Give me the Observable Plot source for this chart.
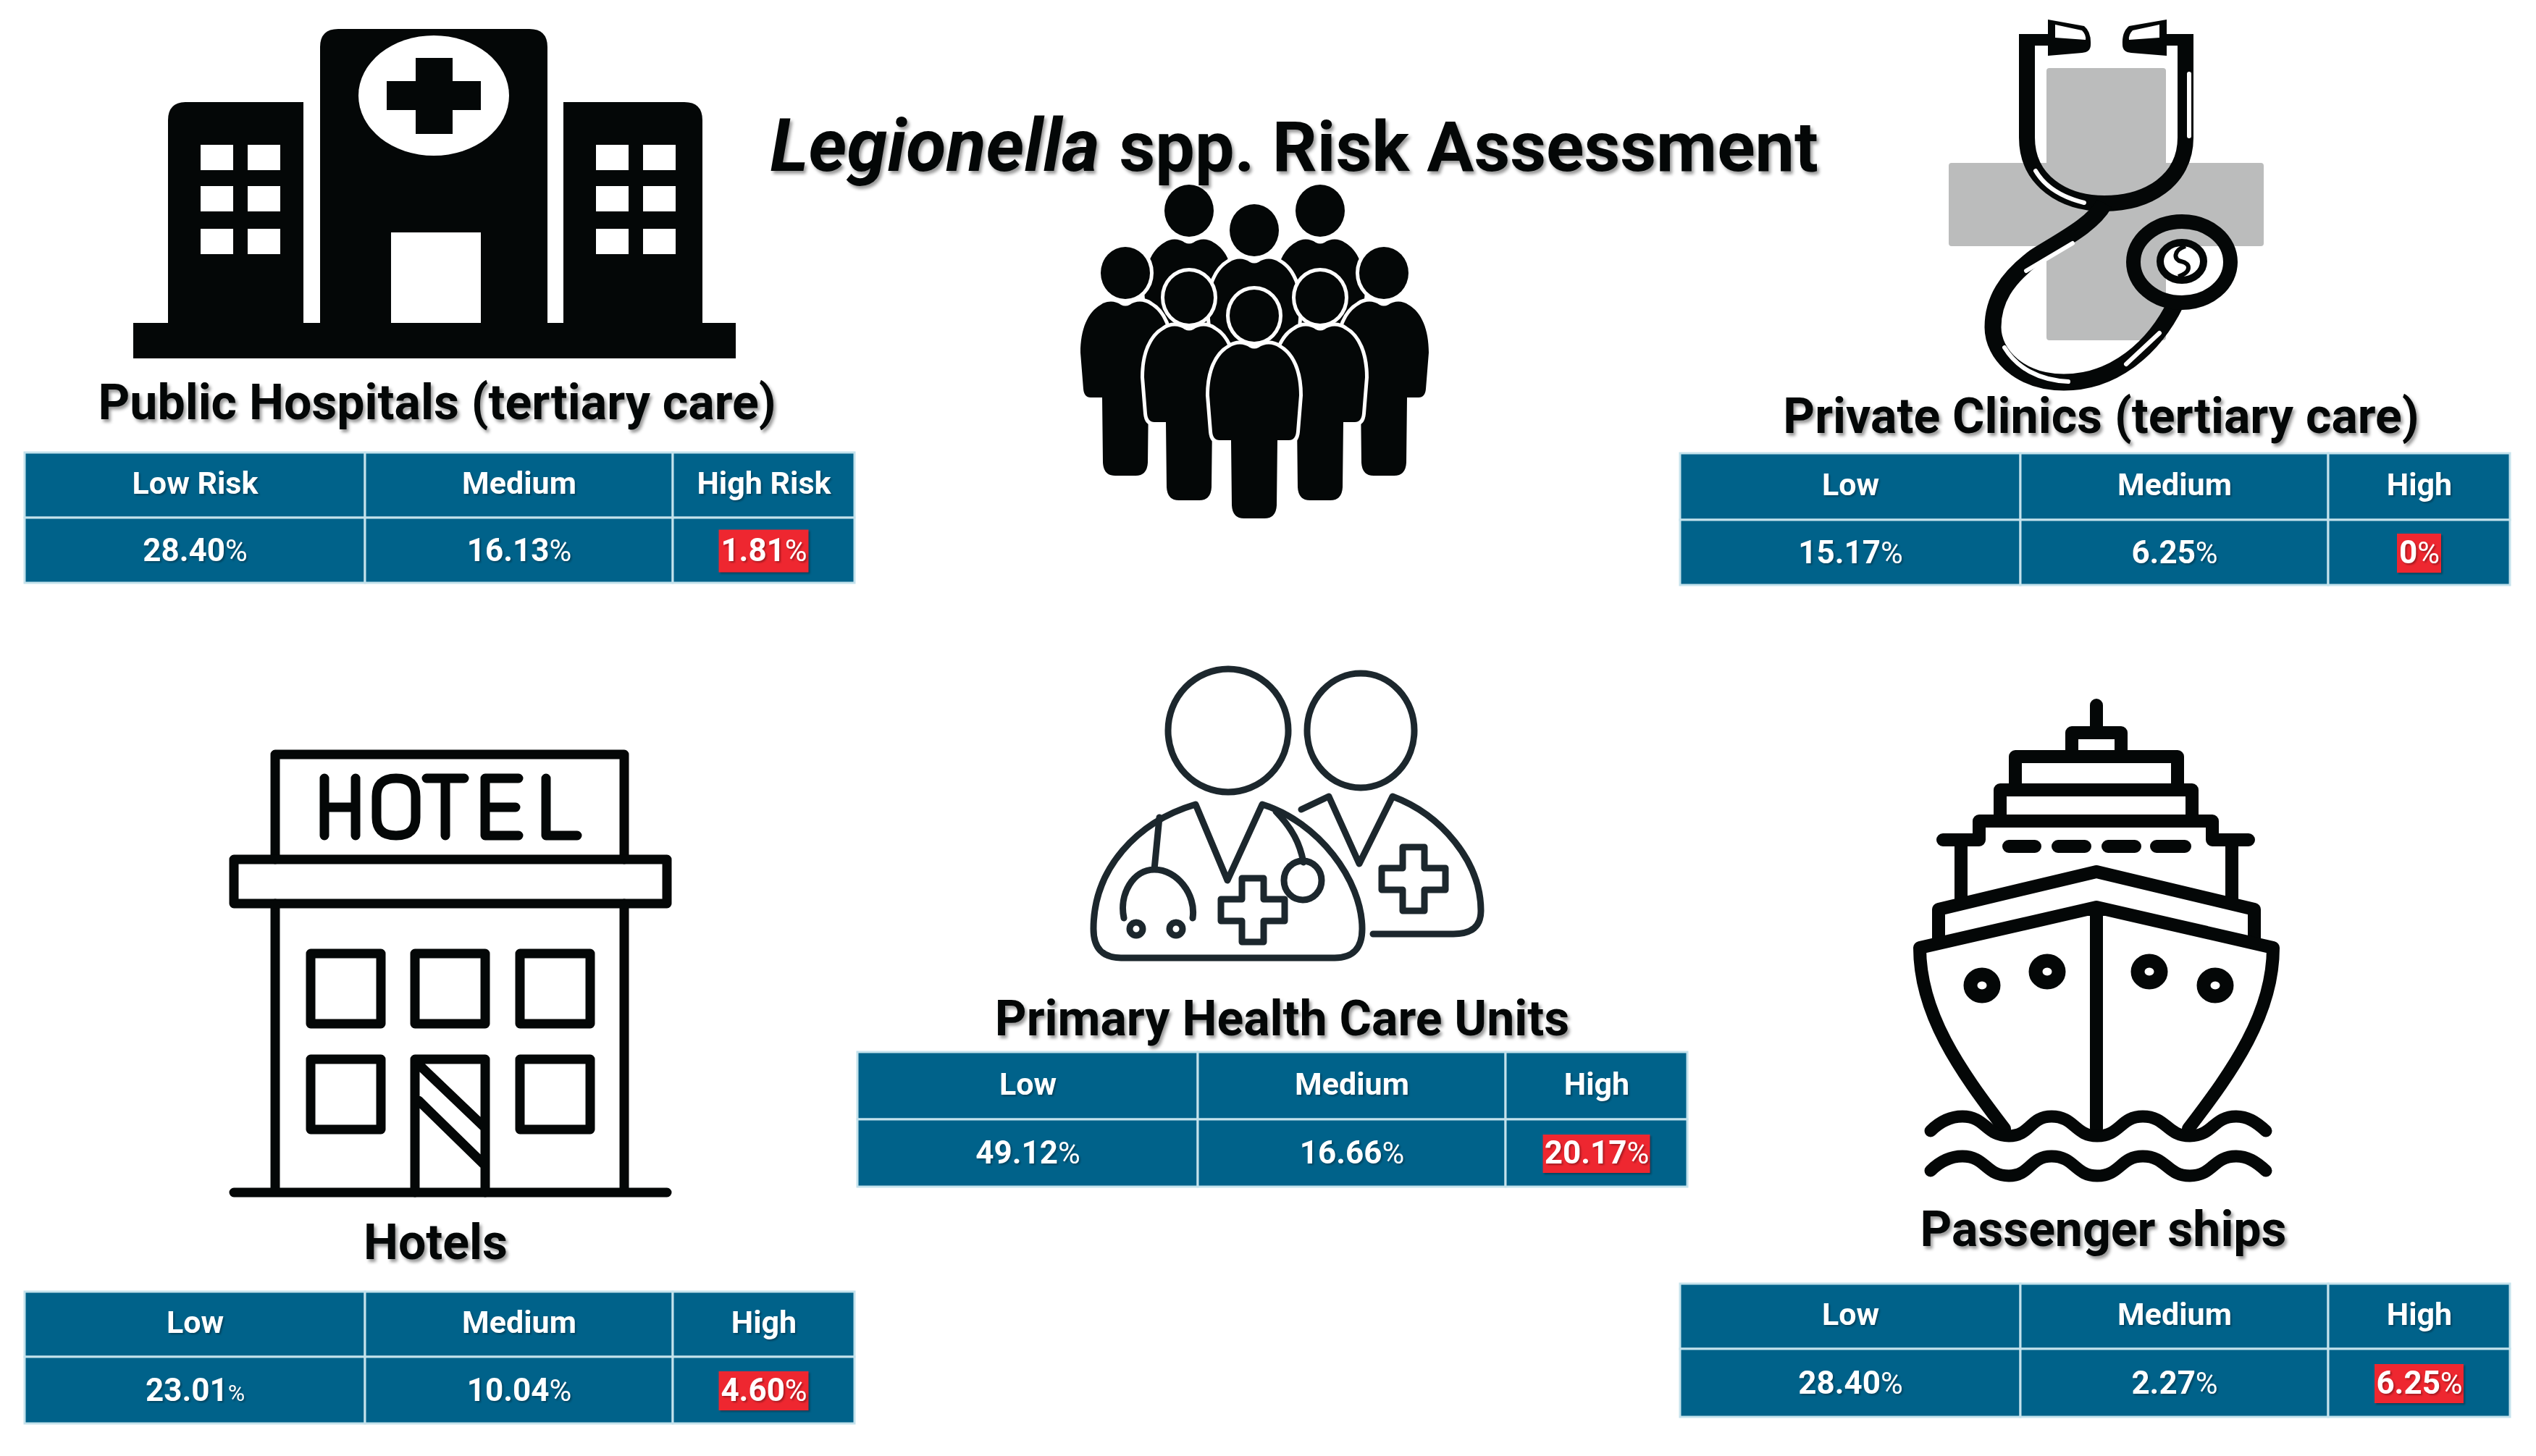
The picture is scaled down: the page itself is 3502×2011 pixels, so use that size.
<!DOCTYPE html>
<html><head><meta charset="utf-8">
<script src="https://cdn.jsdelivr.net/npm/d3@7"></script>
<script src="https://cdn.jsdelivr.net/npm/@observablehq/plot@0.6"></script>
<style>html,body{margin:0;background:#fff}svg{display:block}</style>
</head><body><div id="chart"></div>
<script>
// ---- chart content ----
const titleItalic = "Legionella";
const titleRest = "spp. Risk Assessment";
const settings = ["Public Hospitals (tertiary care)", "Private Clinics (tertiary care)", "Hotels", "Primary Health Care Units", "Passenger ships"];
const lowHeaders = ["Low Risk", "Low", "Low", "Low", "Low"];
const mediumHeaders = ["Medium", "Medium", "Medium", "Medium", "Medium"];
const highHeaders = ["High Risk", "High", "High", "High", "High"];
const lowValues = ["28.40%", "15.17%", "23.01%", "49.12%", "28.40%"];
const mediumValues = ["16.13%", "6.25%", "10.04%", "16.66%", "2.27%"];
const highValues = ["1.81%", "0%", "4.60%", "20.17%", "6.25%"];

// ---- layout (page pixels) ----
const W = 3502, H = 2011;
const panelLeft = [34, 2320, 34, 1184, 2320];
const panelTop = [625, 626, 1784, 1453, 1773];
const panelMid = [715, 718, 1874, 1546, 1863];
const panelBottom = [805, 808, 1966, 1639, 1957];
const colEdges = [0, 470, 895, 1146];
const headingX = [603, 2901, 601, 1770, 2904];
const headingY = [578, 597, 1738, 1429, 1720];
const badgeW = [124, 61, 124, 148, 123];
const badgeH = [59, 54, 54, 53, 54];
const TEAL = "#00628A", RULE = "#C4E2EC", RED = "#EE2730", INK = "#040707";
const FONT = "Roboto";

const rows = settings.map((s, i) => ({i, s, cols: [
  [lowHeaders[i], lowValues[i]], [mediumHeaders[i], mediumValues[i]], [highHeaders[i], highValues[i]]
]}));
const cells = rows.flatMap(r => r.cols.flatMap((c, k) => {
  const x1 = panelLeft[r.i] + colEdges[k], x2 = panelLeft[r.i] + colEdges[k + 1];
  return [
    {x1, x2, y1: panelTop[r.i], y2: panelMid[r.i], label: c[0], value: false},
    {x1, x2, y1: panelMid[r.i], y2: panelBottom[r.i], label: c[1], value: true}
  ];
}));
const badges = rows.map(r => {
  const c = panelLeft[r.i] + (colEdges[2] + colEdges[3]) / 2;
  const m = (panelMid[r.i] + panelBottom[r.i]) / 2 + 1;
  return {x1: c - badgeW[r.i] / 2, x2: c + badgeW[r.i] / 2, y1: m - badgeH[r.i] / 2, y2: m + badgeH[r.i] / 2};
});

// ---- pictograms ----
function shape(tag, attrs) { const e = document.createElementNS("http://www.w3.org/2000/svg", tag); for (const k in attrs) e.setAttribute(k, attrs[k]); return e; }
function glyph(build) { return () => { const g = shape("g", {}); build((t, a) => g.appendChild(shape(t, a))); return g; }; }
const round = {fill: "none", stroke: INK, "stroke-linecap": "round", "stroke-linejoin": "round"};

const hospital = glyph(add => {
  add("path", {fill: INK, d: "M184,446H232V166Q232,141 257,141H419V446H442V65Q442,40 467,40H731Q756,40 756,65V446H778V141H945Q970,141 970,166V446H1016V495H184Z"});
  add("ellipse", {cx: 599, cy: 132, rx: 104, ry: 83, fill: "#fff"});
  add("path", {fill: INK, d: "M574,80H625V112H664V152H625V185H574V152H534V112H574Z"});
  add("rect", {x: 540, y: 321, width: 124, height: 125, fill: "#fff"});
  for (const x of [277, 342, 823, 888]) for (const y of [200, 257, 316]) add("rect", {x, y, width: 45, height: 35, fill: "#fff"});
});

const person = (add, cx, cy) => {
  add("ellipse", {cx, cy, rx: 34, ry: 36, fill: INK, stroke: "#fff", "stroke-width": 10, "paint-order": "stroke"});
  add("path", {transform: `translate(${cx},${cy})`, fill: INK, stroke: "#fff", "stroke-width": 10, "paint-order": "stroke",
    d: "M-6,44Q0,47 6,44C14,38 26,38 34,44C52,54 62,78 62,110L58,160Q57,172 48,172L32,172L31,262Q30,280 14,280L-14,280Q-30,280 -31,262L-32,172L-48,172Q-57,172 -58,160L-62,110C-62,78 -52,54 -34,44C-26,38 -14,38 -6,44Z"});
};
const crowd = glyph(add => {
  for (const [x, y] of [[1642, 291], [1823, 291], [1732, 318], [1554, 377], [1911, 377], [1642, 411], [1823, 411], [1732, 436]]) person(add, x, y);
});

const stethoscope = glyph(add => {
  add("path", {fill: "#BBBCBC", d: "M2830,94H2987Q2991,94 2991,98V225H3122Q3126,225 3126,229V336Q3126,340 3122,340H2991V466Q2991,470 2987,470H2830Q2826,470 2826,466V340H2695Q2691,340 2691,336V229Q2691,225 2695,225H2826V98Q2826,94 2830,94Z"});
  add("path", {...round, "stroke-width": 22, "stroke-linecap": "butt", d: "M2799,52V190C2799,250 2850,281 2906,281C2965,281 3018,250 3018,190V52"});
  add("path", {...round, "stroke-width": 23, "stroke-linecap": "butt", d: "M2906,281C2890,310 2850,330 2810,355C2770,385 2752,415 2752,452C2752,490 2790,528 2850,528C2920,528 2975,480 3005,418"});
  add("path", {fill: INK, d: "M2788,47H2828V27L2878,36Q2888,44 2887,62Q2887,72 2875,73L2828,77V63H2805V60H2788Z"});
  add("path", {fill: INK, d: "M3029,47H2992V27L2940,36Q2930,44 2931,62Q2931,72 2943,73L2992,77V63H3014V60H3029Z"});
  add("path", {fill: "#fff", d: "M2838,34L2875,42Q2881,48 2880,55L2838,52Z"});
  add("path", {fill: "#fff", d: "M2982,34L2945,42Q2939,48 2940,55L2982,52Z"});
  add("path", {fill: "none", stroke: "#fff", "stroke-width": 6, "stroke-linecap": "round", d: "M3023,102V188M2811,236C2825,260 2850,273 2878,280M2798,374L2862,336M2768,480C2785,508 2815,525 2856,527M2936,503L2982,460"});
  add("ellipse", {cx: 3013, cy: 362, rx: 67, ry: 56, fill: "none", stroke: INK, "stroke-width": 20});
  add("ellipse", {cx: 3013, cy: 361, rx: 30, ry: 26, fill: "#fff", stroke: INK, "stroke-width": 10});
  add("path", {fill: "none", stroke: INK, "stroke-width": 6, d: "M3018,340C3000,346 3002,359 3012,361C3026,364 3026,376 3008,382"});
});

const hotel = glyph(add => {
  const thick = {...round, "stroke-width": 13};
  add("path", {...thick, d: "M380,1187V1042H862V1187M380,1248V1647M862,1248V1647M323,1647H921"});
  add("rect", {...thick, x: 323, y: 1187, width: 598, height: 61});
  for (const x of [429, 573, 718]) add("rect", {...thick, x, y: 1317, width: 97, height: 97});
  for (const x of [429, 718]) add("rect", {...thick, x, y: 1463, width: 97, height: 97});
  add("path", {...thick, d: "M573,1647V1463H670V1647M578,1470L668,1556M578,1520L668,1608"});
  add("path", {...thick, d: "M448,1075V1154M491,1075V1154M448,1115H491M547,1075C527,1075 520,1085 520,1100V1129C520,1144 527,1154 547,1154C567,1154 574,1144 574,1129V1100C574,1085 567,1075 547,1075ZM589,1075H641M615,1075V1154M716,1075H670V1154H716M670,1115H712M754,1075V1154H797"});
});

const doctors = glyph(add => {
  const line = {fill: "none", stroke: "#1C272D", "stroke-width": 9, "stroke-linecap": "round", "stroke-linejoin": "round"};
  add("ellipse", {...line, cx: 1696, cy: 1009, rx: 83, ry: 85});
  add("ellipse", {...line, cx: 1879, cy: 1009, rx: 74, ry: 79});
  add("path", {...line, d: "M1651,1111C1570,1135 1510,1200 1510,1283Q1510,1323 1548,1323H1843Q1881,1323 1881,1283C1881,1215 1820,1135 1743,1111L1695,1216Z"});
  add("path", {...line, d: "M1797,1118L1835,1100L1877,1193L1923,1100C1990,1125 2045,1190 2045,1258Q2045,1290 2007,1290H1896"});
  const cross = (x, y) => `M${x - 15},${y - 44}h30v29h29v30h-29v29h-30v-29h-29v-30h29Z`;
  add("path", {...line, d: cross(1730, 1257)});
  add("path", {...line, d: cross(1952, 1214)});
  add("path", {...line, d: "M1601,1129L1594,1201M1552,1268C1545,1235 1565,1201 1594,1201C1625,1201 1652,1235 1647,1268M1762,1121C1785,1145 1795,1165 1800,1191"});
  add("ellipse", {...line, cx: 1799, cy: 1216, rx: 26, ry: 27});
  add("ellipse", {...line, cx: 1569, cy: 1283, rx: 9, ry: 9});
  add("ellipse", {...line, cx: 1624, cy: 1283, rx: 9, ry: 9});
});

const wave = y => `M2666,${y + 20}C2680,${y + 6} 2695,${y} 2710,${y}C2742,${y} 2742,${y + 27} 2774,${y + 27}C2804,${y + 27} 2803,${y} 2833,${y}C2865,${y} 2865,${y + 27} 2896,${y + 27}C2928,${y + 27} 2928,${y} 2959,${y}C2992,${y} 2992,${y + 27} 3024,${y + 27}C3056,${y + 27} 3056,${y} 3088,${y}C3103,${y} 3115,${y + 7} 3129,${y + 20}`;
const ship = glyph(add => {
  const s = {...round, "stroke-width": 18};
  add("path", {...s, d: "M2895,974V1012M2861,1045V1012H2929V1045M2783,1091V1045H3007V1091M2762,1134V1091H3027V1134M2683,1160H2733V1134H3055V1160H3105M2708,1160V1241M3082,1160V1241"});
  add("path", {...s, d: "M2774,1169H2810M2842,1169H2879M2911,1169H2948M2978,1169H3017"});
  add("path", {...s, d: "M2677,1302V1256L2895,1204L3113,1256V1302"});
  add("path", {...s, d: "M2768,1559C2706,1478 2651,1400 2651,1309L2895,1253L3139,1309C3139,1400 3084,1478 3022,1559M2895,1261V1559"});
  for (const [cx, cy] of [[2737, 1361], [2827, 1342], [2968, 1342], [3059, 1361]])
    add("ellipse", {cx, cy, rx: 16, ry: 15, fill: "#fff", stroke: INK, "stroke-width": 19});
  add("path", {...s, "stroke-width": 17, d: wave(1542)});
  add("path", {...s, "stroke-width": 17, d: wave(1597)});
});

const headShadow = "drop-shadow(3px 4px 2px rgba(0,0,0,.4))";
const cellShadow = "drop-shadow(2px 2px 1px rgba(0,0,0,.3))";
const cellText = {x: d => (d.x1 + d.x2) / 2, y: d => (d.y1 + d.y2) / 2, text: "label", fill: "#fff", fontWeight: 700, fontFamily: FONT, imageFilter: cellShadow};
const chart = Plot.plot({
  width: W, height: H,
  margin: 0, marginTop: 0, marginRight: 0, marginBottom: 0, marginLeft: 0,
  style: {fontFamily: FONT, background: "#fff"},
  x: {domain: [0, W], range: [0, W], axis: null},
  y: {domain: [0, H], range: [0, H], axis: null},
  marks: [
    hospital, stethoscope, crowd, hotel, doctors, ship,
    Plot.rect(cells, {x1: "x1", x2: "x2", y1: "y1", y2: "y2", fill: TEAL, stroke: RULE, strokeWidth: 3}),
    Plot.rect(badges, {x1: "x1", x2: "x2", y1: "y1", y2: "y2", fill: RED, imageFilter: cellShadow}),
    Plot.text(cells.filter(d => !d.value), {...cellText, fontSize: 43, dy: -2}),
    Plot.text(cells.filter(d => d.value), {...cellText, fontSize: 44}),
    Plot.text(rows, {x: d => headingX[d.i], y: d => headingY[d.i], text: "s", fill: INK, fontSize: 68, fontWeight: 700,
      lineAnchor: "bottom", fontFamily: FONT, imageFilter: headShadow}),
    Plot.text([titleItalic], {x: 1063, y: 235, text: d => d, fill: INK, fontSize: 101, fontWeight: 700, fontStyle: "italic",
      textAnchor: "start", lineAnchor: "bottom", fontFamily: FONT, imageFilter: headShadow}),
    Plot.text([titleRest], {x: 1545, y: 235, text: d => d, fill: INK, fontSize: 97, fontWeight: 700,
      textAnchor: "start", lineAnchor: "bottom", fontFamily: FONT, imageFilter: headShadow})
  ]
});
// the percent sign is set lighter than the digits, and smaller for the hotels' low value
d3.select(chart).selectAll("text").each(function () {
  const t = this.textContent;
  if (!/^[\d.]+%$/.test(t)) return;
  this.textContent = t.slice(0, -1);
  const pc = shape("tspan", {"font-weight": 400, "font-size": t === "23.01%" ? 32 : 42});
  pc.textContent = "%";
  this.appendChild(pc);
});
document.getElementById("chart").appendChild(chart);
</script></body></html>
